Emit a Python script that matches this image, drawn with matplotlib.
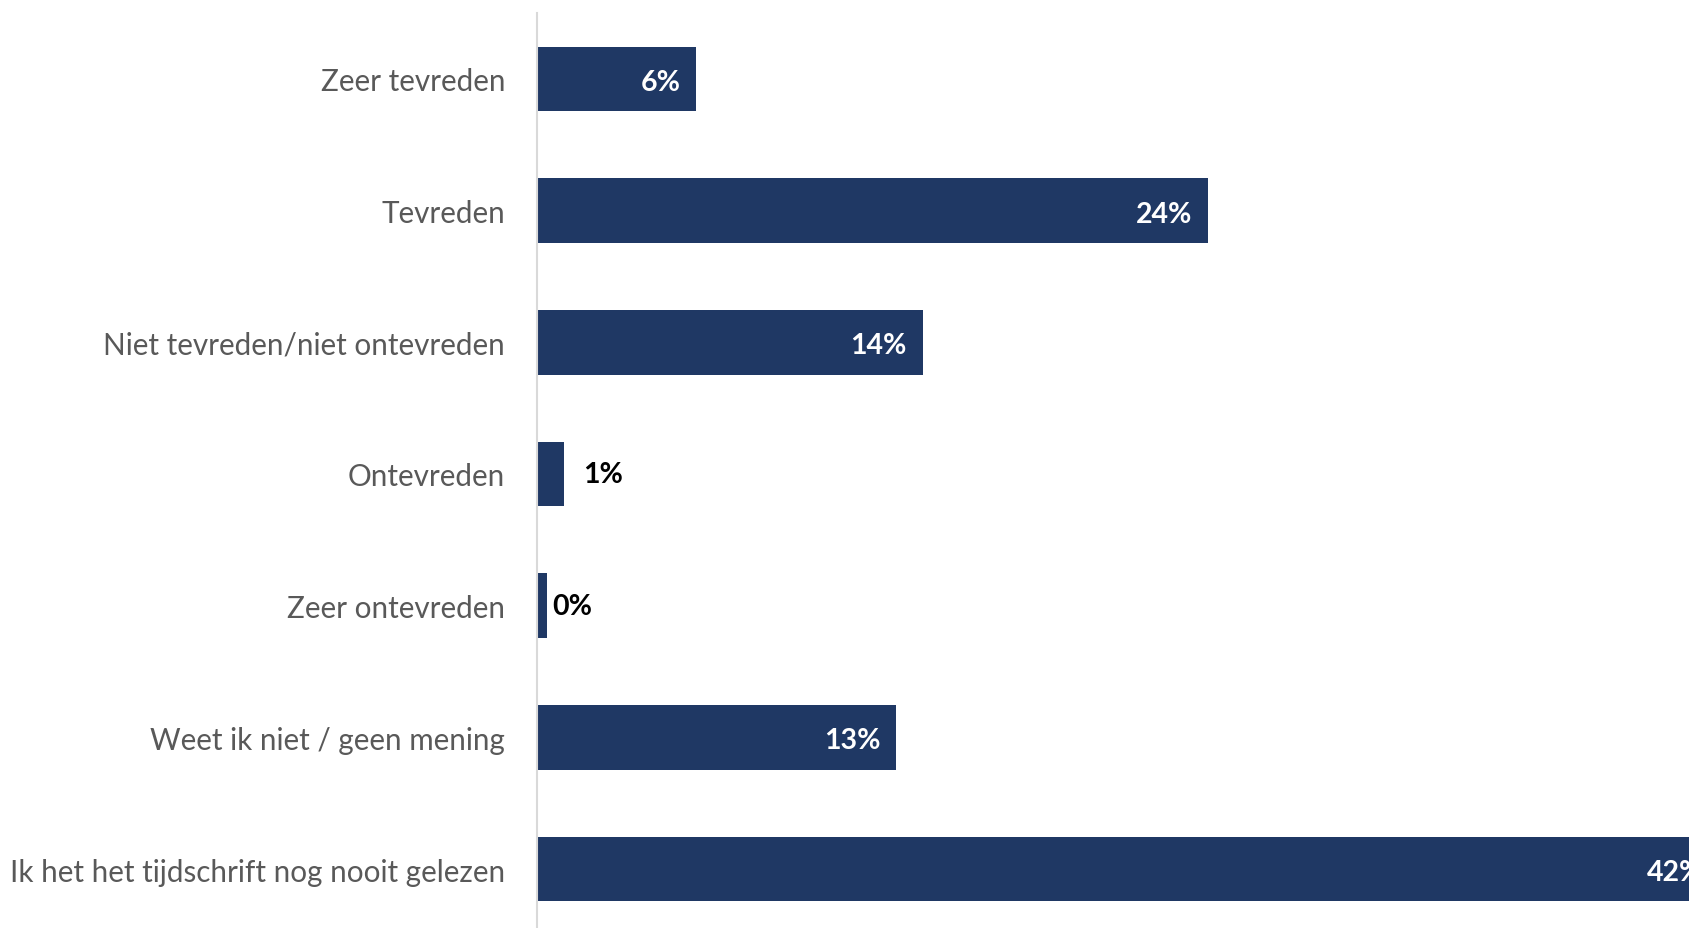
import matplotlib
matplotlib.use("Agg")
import matplotlib.pyplot as plt
from matplotlib.transforms import offset_copy

categories = [
    "Zeer tevreden",
    "Tevreden",
    "Niet tevreden/niet ontevreden",
    "Ontevreden",
    "Zeer ontevreden",
    "Weet ik niet / geen mening",
    "Ik het het tijdschrift nog nooit gelezen",
]
values = [5.7, 24.0, 13.8, 0.95, 0.35, 12.85, 42.3]
labels = ["6%", "24%", "14%", "1%", "0%", "13%", "42%"]

BAR = "#1F3864"
W, H, DPI = 16.9, 9.29, 100
fig = plt.figure(figsize=(W, H), dpi=DPI)
px_per_unit = 27.96
left_px = 537
top_px = 14
bottom_px = 936
ax = fig.add_axes([left_px / 1690, (929 - bottom_px) / 929, 1 - left_px / 1690,
                   (bottom_px - top_px) / 929])
ax.set_xlim(0, (1690 - left_px) / px_per_unit)
ypos = list(range(len(categories)))
ax.barh(ypos, values, height=0.49, color=BAR, zorder=2)
ax.set_ylim(len(categories) - 0.5, -0.5)

for s in ["top", "right", "bottom"]:
    ax.spines[s].set_visible(False)
ax.spines["left"].set_color("#D9D9D9")
ax.spines["left"].set_linewidth(1.5)
ax.set_xticks([])
ax.set_yticks(ypos)
ax.set_yticklabels(categories, fontsize=21.3, color="#595959", family="Lato")
ax.tick_params(axis="y", length=0, pad=23)

for y, v, lab in zip(ypos, values, labels):
    if v >= 3:
        t = offset_copy(ax.transData, fig=fig, x=-16, y=-3, units="dots")
        ax.text(v, y, lab, transform=t, ha="right", va="center", color="white",
                fontsize=20.5, fontweight="bold", family="Lato", clip_on=False)
    else:
        pad = 20 if v >= 0.5 else 5
        t = offset_copy(ax.transData, fig=fig, x=pad, y=0, units="dots")
        ax.text(v, y, lab, transform=t, ha="left", va="center", color="black",
                fontsize=20.5, fontweight="bold", family="Lato", clip_on=False)

fig.savefig("out.png", dpi=DPI)
